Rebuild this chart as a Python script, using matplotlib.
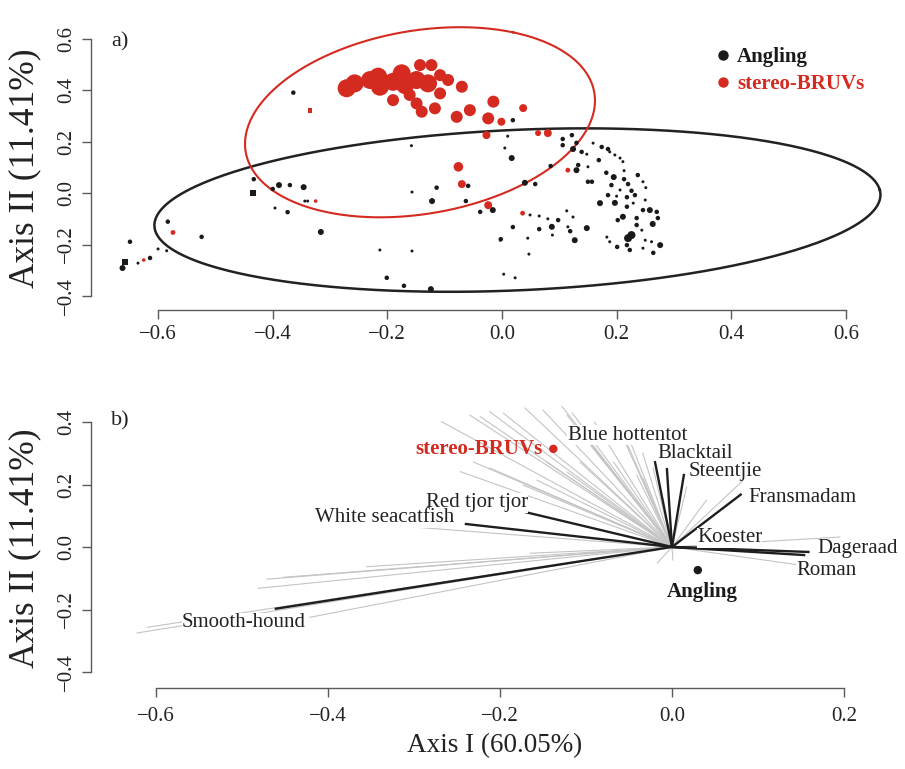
import numpy as np
import matplotlib
matplotlib.use('Agg')
import matplotlib.pyplot as plt
from matplotlib.lines import Line2D

plt.rcParams['font.family'] = ['Liberation Serif', 'DejaVu Serif']

RED = '#d42a20'
AXC = '#5a5a5a'

# ---------------- Panel a) : sample scores ----------------
# stereo-BRUVs samples (circles): x, y, relative size (cex)
bruv_x = [-0.271, -0.257, -0.230, -0.216, -0.213, -0.190, -0.175, -0.169, -0.149, -0.143,
          -0.123, -0.129, -0.108, -0.108, -0.094, -0.070, -0.190, -0.161, -0.149, -0.140,
          -0.117, -0.079, -0.056, -0.024, -0.015, -0.027, -0.076, -0.070, -0.024, -0.001,
          0.037, 0.063, 0.080, 0.115, 0.036, -0.574, -0.625, -0.325]
bruv_y = [0.407, 0.426, 0.439, 0.452, 0.413, 0.432, 0.465, 0.419, 0.439, 0.497,
          0.497, 0.426, 0.387, 0.458, 0.439, 0.413, 0.361, 0.381, 0.348, 0.316,
          0.329, 0.296, 0.322, 0.290, 0.355, 0.225, 0.102, 0.035, -0.047, 0.277,
          0.330, 0.233, 0.233, 0.089, -0.078, -0.153, -0.260, -0.031]
bruv_cex = [3.0, 3.0, 3.0, 3.0, 3.0, 3.0, 3.0, 3.0, 3.0, 2.0,
            2.0, 3.0, 2.0, 2.0, 2.0, 2.0, 2.0, 2.0, 2.0, 2.0,
            2.0, 2.0, 2.0, 2.0, 2.0, 1.33, 1.6, 1.33, 1.33, 1.33,
            1.33, 1.0, 1.33, 0.8, 0.8, 0.8, 0.6, 0.6]
# stereo-BRUVs samples (squares)
bruv_sq_x = [-0.335]
bruv_sq_y = [0.320]
bruv_sq_cex = [0.8]

# Angling samples (circles)
ang_x = [0.019, 0.010, 0.005, 0.017, 0.085, 0.040, 0.058, 0.106, 0.106, 0.122,
         0.130, 0.124, 0.139, 0.148, 0.159, 0.174, 0.185, 0.188, 0.197, 0.206,
         0.211, 0.169, 0.133, 0.130, 0.150, 0.182, 0.213, 0.195, 0.237, 0.246,
         0.220, 0.191, 0.213, 0.150, 0.157, 0.251, 0.226, 0.206, 0.185, 0.232,
         0.200, 0.218, 0.171, 0.197, 0.218, 0.229, 0.250, 0.246, 0.258, 0.270,
         0.272, 0.211, 0.202, 0.235, 0.235, 0.263, 0.244, 0.220, 0.226, 0.218,
         0.201, 0.183, 0.188, 0.223, 0.246, 0.264, 0.276, 0.250, 0.261, 0.113,
         0.124, 0.087, 0.098, 0.049, 0.065, 0.080, 0.148, 0.115, 0.119, 0.088,
         0.065, 0.019, 0.127, 0.045, -0.002, 0.047, 0.003, 0.023, -0.016, -0.038,
         -0.433, -0.400, -0.389, -0.370, -0.346, -0.339, -0.344, -0.396, -0.374, -0.583,
         -0.649, -0.524, -0.316, -0.662, -0.635, -0.614, -0.600, -0.585, -0.213, -0.157,
         -0.201, -0.171, -0.124, -0.157, -0.114, -0.122, -0.063, -0.059, -0.003, -0.158,
         -0.364]
ang_y = [0.283, 0.221, 0.175, 0.136, 0.105, 0.040, 0.035, 0.210, 0.186, 0.225,
         0.195, 0.171, 0.160, 0.151, 0.194, 0.179, 0.171, 0.160, 0.148, 0.136,
         0.122, 0.128, 0.109, 0.089, 0.102, 0.079, 0.087, 0.062, 0.070, 0.044,
         0.035, 0.031, 0.054, 0.044, 0.044, 0.021, 0.009, 0.012, -0.008, -0.008,
         -0.012, -0.016, -0.039, -0.038, -0.053, -0.039, -0.027, -0.066, -0.066, -0.073,
         -0.097, -0.092, -0.105, -0.097, -0.124, -0.120, -0.144, -0.175, -0.163, -0.202,
         -0.209, -0.171, -0.189, -0.221, -0.214, -0.232, -0.202, -0.183, -0.189, -0.069,
         -0.093, -0.131, -0.105, -0.085, -0.089, -0.100, -0.136, -0.131, -0.148, -0.163,
         -0.140, -0.132, -0.183, -0.175, -0.179, -0.237, -0.315, -0.329, -0.066, -0.073,
         0.054, 0.016, 0.031, 0.031, 0.023, -0.031, -0.031, -0.058, -0.074, -0.111,
         -0.189, -0.170, -0.151, -0.291, -0.272, -0.252, -0.217, -0.224, -0.221, -0.225,
         -0.329, -0.360, -0.373, 0.004, 0.021, -0.031, -0.031, 0.028, -0.183, 0.184,
         0.390]
ang_cex = [0.75, 0.5, 0.5, 1.0, 0.75, 1.0, 0.75, 0.75, 0.75, 0.75,
           0.75, 1.0, 0.75, 0.5, 0.5, 0.75, 0.75, 0.5, 0.5, 0.5,
           0.5, 0.75, 0.75, 1.0, 0.5, 0.75, 0.5, 1.0, 0.75, 0.5,
           0.75, 0.75, 0.75, 0.75, 0.75, 0.5, 0.75, 0.5, 0.75, 0.75,
           0.5, 0.75, 1.0, 1.0, 0.75, 0.5, 0.5, 0.75, 1.0, 0.75,
           0.75, 1.0, 0.75, 0.75, 0.75, 1.0, 0.5, 1.33, 1.33, 0.75,
           0.75, 0.5, 0.5, 0.75, 0.5, 0.75, 1.0, 0.5, 0.5, 0.5,
           0.5, 1.0, 0.75, 0.5, 0.5, 0.5, 1.0, 0.5, 0.75, 0.5,
           0.75, 0.75, 1.0, 0.5, 0.75, 0.5, 0.5, 0.5, 1.0, 0.75,
           0.75, 0.75, 1.0, 0.75, 1.0, 0.5, 0.5, 0.5, 0.75, 0.75,
           0.75, 0.75, 1.0, 1.0, 0.5, 0.75, 0.5, 0.5, 0.5, 0.5,
           0.75, 0.75, 1.0, 0.5, 0.75, 1.0, 0.75, 0.75, 0.5, 0.5,
           0.75]
# Angling samples (squares)
ang_sq_x = [-0.435, -0.658]
ang_sq_y = [0.001, -0.267]
ang_sq_cex = [1.0, 1.0]

# dispersion ellipses: centre x, centre y, semi-axis a, semi-axis b, angle (deg)
ell_angling = [0.027, -0.066, 0.637, 0.310, 7.0]
ell_bruvs = [-0.143, 0.275, 0.385, 0.285, 65.0]

# ---------------- Panel b) : biplot ----------------
method_names = ['stereo-BRUVs', 'Angling']
method_x = [-0.138, 0.030]
method_y = [0.314, -0.074]

species = ['Smooth-hound', 'White seacatfish', 'Red tjor tjor', 'Blue hottentot',
           'Blacktail', 'Steentjie', 'Fransmadam', 'Koester', 'Dageraad', 'Roman']
species_x = [-0.462, -0.241, -0.171, -0.020, -0.006, 0.014, 0.081, 0.045, 0.160, 0.155]
species_y = [-0.198, 0.074, 0.112, 0.275, 0.253, 0.234, 0.170, -0.004, -0.016, -0.026]
label_x = [-0.498, -0.334, -0.227, -0.052, 0.027, 0.062, 0.152, 0.067, 0.216, 0.180]
label_y = [-0.243, 0.093, 0.141, 0.358, 0.298, 0.243, 0.157, 0.029, -0.006, -0.074]

other_x = [-0.622, -0.610, -0.421, -0.481, -0.471, -0.452, -0.355, -0.165, -0.301, -0.268,
           -0.235, -0.223, -0.212, -0.196, -0.171, -0.150, -0.122, -0.116, -0.246, -0.231,
           -0.212, -0.173, -0.157, -0.146, -0.122, -0.107, -0.092, -0.068, -0.053, -0.041,
           -0.034, -0.022, -0.107, 0.017, 0.040, 0.083, 0.195, 0.149, -0.017, 0.001,
           -0.128, -0.090, -0.060, -0.047, -0.034]
other_y = [-0.275, -0.257, -0.225, -0.132, -0.103, -0.097, -0.063, -0.020, 0.064, 0.401,
           0.422, 0.417, 0.433, 0.428, 0.445, 0.438, 0.422, 0.429, 0.241, 0.272,
           0.253, 0.198, 0.214, 0.272, 0.240, 0.272, 0.326, 0.272, 0.326, 0.230,
           0.221, 0.253, 0.368, 0.192, 0.150, 0.214, 0.032, -0.058, -0.051, -0.042,
           0.450, 0.400, 0.380, 0.326, 0.300]


def cex_to_s(cex):
    d_pt = np.asarray(cex) * 6.0 * 0.72
    return d_pt ** 2


def ellipse_xy(p, n=400):
    cx, cy, a, b, ang = p
    t = np.linspace(0, 2 * np.pi, n)
    th = np.deg2rad(ang)
    x = cx + a * np.cos(t) * np.cos(th) - b * np.sin(t) * np.sin(th)
    y = cy + a * np.cos(t) * np.sin(th) + b * np.sin(t) * np.cos(th)
    return x, y


def r_style(ax, xb, yb, xpad=4):
    for s in ['top', 'right']:
        ax.spines[s].set_visible(False)
    for s in ['left', 'bottom']:
        ax.spines[s].set_color(AXC)
        ax.spines[s].set_linewidth(1.0)
    ax.spines['bottom'].set_bounds(*xb)
    ax.spines['left'].set_bounds(*yb)
    ax.tick_params(direction='out', length=6.5, width=1.0, color=AXC,
                   labelsize=15, labelcolor='#222222', pad=4)
    ax.tick_params(axis='x', pad=xpad)
    ax.tick_params(axis='y', labelrotation=90)
    for lab in ax.get_yticklabels():
        lab.set_va('center')


W, H = 905, 769
fig = plt.figure(figsize=(W / 100, H / 100), dpi=100)

# ---- top axes
axa = fig.add_axes([91 / W, 1 - 310 / H, (890 - 91) / W, (310 - 28) / H])
axa.set_xlim(-0.717, 0.677)
axa.set_ylim(-0.454, 0.641)
axa.set_xticks([-0.6, -0.4, -0.2, 0.0, 0.2, 0.4, 0.6])
axa.set_yticks([-0.4, -0.2, 0.0, 0.2, 0.4, 0.6])
axa.set_xticklabels(['\u22120.6', '\u22120.4', '\u22120.2', '0.0', '0.2', '0.4', '0.6'])
axa.set_yticklabels(['\u22120.4', '\u22120.2', '0.0', '0.2', '0.4', '0.6'])
r_style(axa, (-0.6, 0.6), (-0.4, 0.6))

ex, ey = ellipse_xy(ell_angling)
axa.plot(ex, ey, color='#222222', lw=1.8, clip_on=False, zorder=3)
ex, ey = ellipse_xy(ell_bruvs)
axa.plot(ex, ey, color=RED, lw=1.5, clip_on=False, zorder=3)

axa.scatter(ang_x, ang_y, s=cex_to_s(ang_cex), color='#1a1a1a', edgecolors='none', zorder=4)
axa.scatter(ang_sq_x, ang_sq_y, s=cex_to_s(ang_sq_cex), color='#1a1a1a', marker='s',
            edgecolors='none', zorder=4)
axa.scatter(bruv_x, bruv_y, s=cex_to_s(bruv_cex), color=RED, edgecolors='none', zorder=5)
axa.scatter(bruv_sq_x, bruv_sq_y, s=cex_to_s(bruv_sq_cex), color=RED, marker='s',
            edgecolors='none', zorder=5)

axa.set_ylabel('Axis II (11.41%)', fontsize=25.5, color='#222222', va='center')
axa.yaxis.set_label_coords((25 - 91) / 799, 0.5035)

handles = [Line2D([], [], ls='none', marker='o', ms=6.5, color='#1a1a1a'),
           Line2D([], [], ls='none', marker='o', ms=6.5, color=RED)]
leg = axa.legend(handles, ['Angling', 'stereo-BRUVs'], loc='upper left',
                 bbox_to_anchor=(0.78, 0.932), frameon=False, handlelength=0.8,
                 handletextpad=0.3, labelspacing=0.35, borderpad=0, borderaxespad=0,
                 prop={'size': 15, 'weight': 'bold'}, labelcolor=['#1a1a1a', RED])

fig.text(120 / W, 1 - 42 / H, 'a)', fontsize=16, ha='center', va='center', color='#222222')

# ---- bottom axes
axb = fig.add_axes([91 / W, 1 - 688 / H, (860 - 91) / W, (688 - 400) / H])
axb.set_xlim(-0.6756, 0.2186)
axb.set_ylim(-0.4512, 0.4704)
axb.set_xticks([-0.6, -0.4, -0.2, 0.0, 0.2])
axb.set_yticks([-0.4, -0.2, 0.0, 0.2, 0.4])
axb.set_xticklabels(['\u22120.6', '\u22120.4', '\u22120.2', '0.0', '0.2'])
axb.set_yticklabels(['\u22120.4', '\u22120.2', '0.0', '0.2', '0.4'])
r_style(axb, (-0.6, 0.2), (-0.4, 0.4), xpad=7)

for x, y in zip(other_x, other_y):
    axb.plot([0, x], [0, y], color='#c4c4c4', lw=0.8, zorder=1, clip_on=False)
for x, y in zip(species_x, species_y):
    axb.plot([0, x], [0, y], color='#1e1e1e', lw=1.7, zorder=2, solid_capstyle='butt')
for i, (name, x, y) in enumerate(zip(species, label_x, label_y)):
    axb.text(x, y, name, fontsize=15, ha='center', va='center', color='#222222',
             zorder=3 + 0.01 * (i == 1), clip_on=False,
             bbox=dict(facecolor='white', edgecolor='none', pad=0.1))

axb.scatter(method_x[:1], method_y[:1], s=cex_to_s([1.4]), color=RED, edgecolors='none', zorder=5)
axb.scatter(method_x[1:], method_y[1:], s=cex_to_s([1.4]), color='#1a1a1a', edgecolors='none', zorder=5)
axb.text(method_x[0] - 0.012, method_y[0], method_names[0], fontsize=15, fontweight='bold',
         color=RED, ha='right', va='center', zorder=4)
axb.text(method_x[1] + 0.005, method_y[1] - 0.07, method_names[1], fontsize=15,
         fontweight='bold', color='#1a1a1a', ha='center', va='center', zorder=4)

axb.set_ylabel('Axis II (11.41%)', fontsize=25.5, color='#222222', va='center')
axb.yaxis.set_label_coords((25 - 91) / 769, 0.486)
axb.set_xlabel('Axis I (60.05%)', fontsize=19.5, color='#222222')
axb.xaxis.set_label_coords(0.525, -0.155)

fig.text(120 / W, 1 - 421 / H, 'b)', fontsize=16, ha='center', va='center', color='#222222')

fig.savefig('out.png', dpi=100)
